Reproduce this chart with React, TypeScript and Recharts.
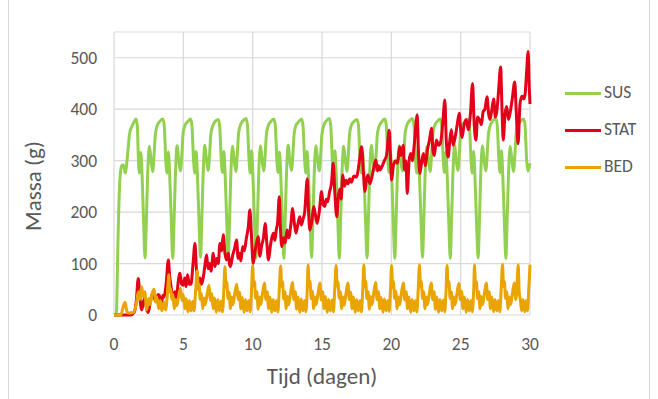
import { LineChart, Line, XAxis, YAxis, CartesianGrid } from 'recharts'

// massa in de waterkolom (zwevend), [tijd in dagen, massa in g]
const susPoints: [number, number][] = [
  [0, 0], [0.16, 0], [0.3, 160], [0.42, 262], [0.55, 290], [0.65, 292], [0.75, 283], [0.82, 276], [0.9, 290], [1.0, 318],
  [1.12, 352], [1.28, 366], [1.45, 375], [1.58, 381], [1.68, 368], [1.77, 296], [1.84, 276], [1.93, 316], [2.02, 276], [2.14, 176],
  [2.24, 111], [2.32, 170], [2.42, 268], [2.55, 328], [2.67, 301], [2.79, 279], [2.9, 316], [2.98, 350], [3.1, 367], [3.29, 376], [3.52, 381], [3.62, 369], [3.74, 298], [3.83, 276], [3.92, 317], [4.01, 277], [4.14, 176],
  [4.24, 110], [4.32, 172], [4.42, 266], [4.55, 329], [4.67, 300], [4.79, 280], [4.9, 315], [4.98, 352], [5.1, 368], [5.29, 375], [5.52, 381], [5.62, 368], [5.74, 300], [5.83, 276], [5.92, 318], [6.01, 276], [6.14, 175],
  [6.24, 112], [6.32, 171], [6.42, 267], [6.55, 330], [6.67, 302], [6.79, 281], [6.9, 314], [6.98, 351], [7.1, 366], [7.29, 376], [7.52, 380], [7.62, 368], [7.74, 299], [7.83, 277], [7.92, 318], [8.01, 277], [8.14, 174],
  [8.24, 110], [8.32, 170], [8.42, 268], [8.55, 328], [8.67, 300], [8.79, 279], [8.9, 316], [8.98, 352], [9.1, 368], [9.29, 377], [9.52, 382], [9.62, 370], [9.74, 300], [9.83, 276], [9.92, 319], [10.01, 276], [10.14, 176],
  [10.25, 111], [10.33, 172], [10.43, 269], [10.56, 329], [10.68, 301], [10.8, 280], [10.91, 315], [10.99, 351], [11.11, 367], [11.3, 376], [11.53, 381], [11.63, 369], [11.75, 299], [11.84, 277], [11.93, 317], [12.02, 277], [12.15, 175],
  [12.25, 110], [12.33, 171], [12.43, 267], [12.56, 330], [12.68, 300], [12.8, 281], [12.91, 316], [12.99, 352], [13.11, 368], [13.3, 375], [13.53, 381], [13.63, 368], [13.75, 300], [13.84, 276], [13.93, 318], [14.02, 276], [14.15, 174],
  [14.25, 112], [14.33, 170], [14.43, 268], [14.56, 329], [14.68, 302], [14.8, 280], [14.91, 315], [14.99, 350], [15.11, 367], [15.3, 377], [15.53, 382], [15.63, 369], [15.75, 298], [15.84, 277], [15.93, 319], [16.02, 277], [16.15, 176],
  [16.25, 110], [16.33, 172], [16.43, 266], [16.56, 328], [16.68, 301], [16.8, 279], [16.91, 316], [16.99, 352], [17.11, 368], [17.3, 376], [17.53, 380], [17.63, 368], [17.75, 300], [17.84, 276], [17.93, 317], [18.02, 276], [18.15, 175],
  [18.25, 111], [18.33, 171], [18.43, 268], [18.56, 330], [18.68, 300], [18.8, 281], [18.91, 314], [18.99, 351], [19.11, 366], [19.3, 375], [19.53, 381], [19.63, 370], [19.75, 299], [19.84, 277], [19.93, 318], [20.02, 277], [20.15, 174],
  [20.25, 110], [20.33, 170], [20.43, 267], [20.56, 329], [20.68, 302], [20.8, 280], [20.91, 316], [20.99, 352], [21.11, 368], [21.3, 377], [21.53, 382], [21.63, 369], [21.75, 300], [21.84, 276], [21.93, 319], [22.02, 276], [22.15, 176],
  [22.25, 112], [22.33, 172], [22.43, 269], [22.56, 328], [22.68, 301], [22.8, 279], [22.91, 315], [22.99, 350], [23.11, 367], [23.3, 376], [23.53, 381], [23.63, 368], [23.75, 298], [23.84, 277], [23.93, 317], [24.02, 277], [24.15, 175],
  [24.25, 110], [24.33, 171], [24.43, 266], [24.56, 330], [24.68, 300], [24.8, 281], [24.91, 316], [24.99, 352], [25.11, 368], [25.3, 375], [25.53, 380], [25.63, 369], [25.75, 300], [25.84, 276], [25.93, 318], [26.02, 276], [26.15, 174],
  [26.26, 111], [26.34, 170], [26.44, 268], [26.57, 329], [26.69, 302], [26.81, 280], [26.92, 314], [27.0, 351], [27.12, 367], [27.31, 377], [27.54, 382], [27.64, 368], [27.76, 299], [27.85, 277], [27.94, 319], [28.03, 277], [28.16, 176],
  [28.26, 110], [28.34, 172], [28.44, 267], [28.57, 328], [28.69, 301], [28.81, 279], [28.92, 316], [29.0, 352], [29.12, 368], [29.31, 376], [29.54, 381], [29.64, 369], [29.76, 300], [29.85, 280], [30.0, 295],
]

// massa in stationaire zone
const statPoints: [number, number][] = [
  [0, 0], [1.2, 0], [1.45, 5], [1.6, 25], [1.75, 71], [1.88, 30], [2.0, 10], [2.12, 25], [2.23, 33], [2.35, 12], [2.47, 5],
  [2.65, 30], [2.84, 45], [2.96, 28], [3.08, 30], [3.18, 40], [3.27, 38], [3.36, 22], [3.44, 25], [3.52, 38], [3.6, 35], [3.75, 58],
  [3.92, 107], [4.02, 75], [4.1, 58], [4.25, 35], [4.4, 45], [4.5, 30], [4.62, 62], [4.76, 81], [4.88, 60], [5.0, 58], [5.1, 72],
  [5.2, 55], [5.3, 78], [5.42, 60], [5.55, 60], [5.7, 100], [5.84, 139], [5.93, 95], [6.0, 78], [6.12, 55], [6.2, 72], [6.32, 60],
  [6.45, 75], [6.55, 95], [6.68, 117], [6.78, 90], [6.9, 100], [7.0, 85], [7.16, 120], [7.28, 94], [7.4, 110], [7.52, 100],
  [7.64, 139], [7.76, 125], [7.88, 156], [8.0, 120], [8.12, 107], [8.25, 120], [8.32, 100], [8.4, 94], [8.55, 115], [8.7, 130],
  [8.84, 146], [8.95, 110], [9.05, 120], [9.15, 105], [9.28, 133], [9.4, 125], [9.55, 150], [9.68, 170], [9.8, 204], [9.9, 160],
  [10.04, 100], [10.15, 120], [10.28, 140], [10.4, 152], [10.52, 114], [10.65, 135], [10.78, 150], [10.9, 178], [11.02, 140],
  [11.14, 107], [11.28, 135], [11.38, 150], [11.5, 159], [11.6, 145], [11.7, 165], [11.8, 180], [11.92, 230], [12.0, 170],
  [12.1, 133], [12.22, 150], [12.35, 140], [12.48, 165], [12.6, 150], [12.75, 175], [12.88, 207], [13.0, 180], [13.12, 159],
  [13.25, 175], [13.4, 191], [13.5, 175], [13.62, 185], [13.75, 200], [13.94, 265], [14.03, 200], [14.13, 165], [14.28, 185],
  [14.4, 211], [14.52, 195], [14.65, 178], [14.8, 200], [14.97, 240], [15.08, 215], [15.2, 211], [15.3, 225], [15.4, 220],
  [15.55, 240], [15.68, 255], [15.81, 295], [15.92, 240], [16.06, 191], [16.18, 230], [16.28, 245], [16.38, 225], [16.5, 272],
  [16.62, 250], [16.75, 262], [16.88, 255], [17.0, 265], [17.12, 258], [17.3, 270], [17.5, 268], [17.65, 290], [17.86, 327],
  [17.98, 280], [18.1, 240], [18.22, 265], [18.32, 272], [18.45, 255], [18.6, 268], [18.72, 285], [18.89, 301], [19.0, 280],
  [19.1, 290], [19.2, 282], [19.35, 290], [19.5, 300], [19.65, 310], [19.85, 359], [19.95, 300], [20.02, 262], [20.15, 290],
  [20.3, 300], [20.45, 295], [20.6, 327], [20.7, 310], [20.86, 330], [20.95, 282], [21.05, 300], [21.15, 236], [21.28, 300],
  [21.4, 314], [21.52, 300], [21.65, 330], [21.87, 389], [21.95, 320], [22.06, 275], [22.2, 300], [22.32, 314], [22.45, 290],
  [22.6, 320], [22.75, 340], [22.9, 363], [23.0, 320], [23.1, 310], [23.25, 340], [23.4, 330], [23.55, 335], [23.7, 370],
  [23.86, 418], [23.96, 340], [24.1, 307], [24.22, 340], [24.33, 360], [24.45, 330], [24.6, 345], [24.75, 370], [24.9, 392],
  [25.0, 360], [25.1, 345], [25.25, 370], [25.4, 380], [25.55, 360], [25.7, 390], [25.86, 450], [25.96, 380], [26.1, 340],
  [26.22, 385], [26.35, 380], [26.5, 370], [26.62, 395], [26.75, 400], [26.9, 424], [27.02, 390], [27.12, 380], [27.25, 400],
  [27.38, 420], [27.5, 385], [27.6, 395], [27.72, 430], [27.88, 482], [27.98, 400], [28.07, 340], [28.2, 390], [28.32, 405],
  [28.45, 380], [28.58, 395], [28.72, 420], [28.9, 453], [29.0, 400], [29.14, 333], [29.28, 410], [29.42, 425], [29.55, 420],
  [29.65, 430], [29.75, 470], [29.87, 512], [29.95, 440], [30.0, 410],
]

// massa op de bodem
const bedPoints: [number, number][] = [
  [0, 0], [0.5, 0], [0.65, 15], [0.8, 25], [0.9, 10], [1.0, 4], [1.4, 5], [1.6, 20], [1.75, 45], [1.85, 30], [2.0, 55],
  [2.1, 35], [2.22, 45], [2.35, 10], [2.5, 32], [2.6, 20], [2.75, 42], [2.9, 50], [3.0, 25], [3.1, 35], [3.22, 12], [3.35, 28],
  [3.45, 8], [3.6, 25], [3.72, 10], [3.85, 40],
  [3.95, 78], [4.02, 45], [4.08, 52], [4.17, 30], [4.25, 40], [4.35, 12], [4.43, 30], [4.53, 18], [4.65, 35], [4.8, 52], [4.9, 28], [5.0, 40], [5.1, 12], [5.2, 32], [5.33, 6], [5.43, 28], [5.55, 8], [5.67, 26], [5.77, 8], [5.88, 45],
  [6.0, 86], [6.07, 50], [6.13, 60], [6.22, 30], [6.3, 42], [6.4, 12], [6.48, 33], [6.58, 20], [6.7, 38], [6.85, 58], [6.95, 28], [7.05, 42], [7.15, 12], [7.25, 33], [7.38, 5], [7.48, 30], [7.6, 8], [7.72, 27], [7.82, 6], [7.92, 48],
  [8.0, 94], [8.07, 55], [8.13, 64], [8.22, 32], [8.3, 44], [8.4, 12], [8.48, 35], [8.58, 20], [8.7, 40], [8.85, 60], [8.95, 30], [9.05, 44], [9.15, 12], [9.25, 34], [9.38, 5], [9.48, 30], [9.6, 8], [9.72, 28], [9.82, 6], [9.92, 50],
  [10.0, 96], [10.07, 56], [10.13, 65], [10.22, 32], [10.3, 45], [10.4, 11], [10.48, 35], [10.58, 20], [10.7, 40], [10.85, 62], [10.95, 30], [11.05, 45], [11.15, 12], [11.25, 35], [11.38, 5], [11.48, 30], [11.6, 8], [11.72, 28], [11.82, 6], [11.92, 50],
  [12.02, 95], [12.09, 55], [12.15, 65], [12.24, 31], [12.32, 45], [12.42, 12], [12.5, 36], [12.6, 20], [12.72, 41], [12.87, 63], [12.97, 30], [13.07, 45], [13.17, 11], [13.27, 35], [13.4, 5], [13.5, 31], [13.62, 8], [13.74, 28], [13.84, 6], [13.94, 52],
  [14.0, 97], [14.07, 55], [14.13, 66], [14.22, 32], [14.3, 46], [14.4, 12], [14.48, 35], [14.58, 20], [14.7, 40], [14.85, 62], [14.95, 29], [15.05, 45], [15.15, 12], [15.25, 36], [15.38, 5], [15.48, 30], [15.6, 8], [15.72, 29], [15.82, 6], [15.92, 50],
  [16.02, 96], [16.09, 56], [16.15, 64], [16.24, 33], [16.32, 45], [16.42, 12], [16.5, 35], [16.6, 19], [16.72, 40], [16.87, 62], [16.97, 30], [17.07, 44], [17.17, 12], [17.27, 35], [17.4, 5], [17.5, 30], [17.62, 8], [17.74, 28], [17.84, 6], [17.94, 50],
  [18.02, 97], [18.09, 55], [18.15, 66], [18.24, 32], [18.32, 45], [18.42, 11], [18.5, 36], [18.6, 20], [18.72, 40], [18.87, 63], [18.97, 30], [19.07, 45], [19.17, 12], [19.27, 34], [19.4, 5], [19.5, 31], [19.62, 8], [19.74, 28], [19.84, 7], [19.94, 50],
  [20.02, 96], [20.09, 54], [20.15, 65], [20.24, 32], [20.32, 46], [20.42, 12], [20.5, 35], [20.6, 20], [20.72, 41], [20.87, 62], [20.97, 29], [21.07, 45], [21.17, 12], [21.27, 35], [21.4, 5], [21.5, 30], [21.62, 8], [21.74, 28], [21.84, 6], [21.94, 51],
  [22.03, 97], [22.1, 55], [22.16, 65], [22.25, 32], [22.33, 45], [22.43, 12], [22.51, 35], [22.61, 20], [22.73, 40], [22.88, 62], [22.98, 30], [23.08, 45], [23.18, 11], [23.28, 35], [23.41, 5], [23.51, 30], [23.63, 8], [23.75, 29], [23.85, 6], [23.95, 50],
  [24.02, 96], [24.09, 56], [24.15, 65], [24.24, 32], [24.32, 45], [24.42, 12], [24.5, 35], [24.6, 20], [24.72, 40], [24.87, 61], [24.97, 30], [25.07, 46], [25.17, 12], [25.27, 35], [25.4, 5], [25.5, 30], [25.62, 8], [25.74, 28], [25.84, 6], [25.94, 50],
  [26.0, 97], [26.07, 55], [26.13, 65], [26.22, 32], [26.3, 45], [26.4, 12], [26.48, 36], [26.58, 20], [26.7, 40], [26.85, 62], [26.95, 30], [27.05, 45], [27.15, 12], [27.25, 35], [27.38, 6], [27.48, 30], [27.6, 8], [27.72, 28], [27.82, 6], [27.92, 50],
  [28.02, 98], [28.09, 55], [28.15, 65], [28.24, 32], [28.32, 45], [28.42, 12], [28.5, 35], [28.6, 20], [28.72, 40], [28.87, 62], [28.97, 30], [29.07, 60], [29.15, 97], [29.22, 45], [29.3, 30], [29.4, 8], [29.5, 30], [29.62, 6], [29.72, 28], [29.82, 8], [29.92, 55], [30.0, 98],
]

const xTicks = [0, 5, 10, 15, 20, 25, 30]
const yTicks = [0, 100, 200, 300, 400, 500]

const series = [
  { name: 'SUS', color: '#92d050', points: susPoints },
  { name: 'STAT', color: '#e5001a', points: statPoints },
  { name: 'BED', color: '#e9a400', points: bedPoints },
]

const FONT = "Calibri, Carlito, Lato, sans-serif"
const TEXT = '#595959'
const GRID = '#d9d9d9'

export default function App() {
  return (
    <div style={{ position: 'absolute', left: 0, top: 0, width: 658, height: 399, background: '#fff', fontFamily: FONT }}>
      {/* kader links en rechts */}
      <div style={{ position: 'absolute', left: 8, top: -1, width: 642, height: 401, border: `1px solid ${GRID}`, boxSizing: 'border-box' }} />

      <LineChart width={658} height={399} margin={{ top: 32, right: 128, bottom: 44, left: 54 }}>
        <CartesianGrid stroke={GRID} strokeWidth={1.2} />
        <XAxis
          type="number"
          dataKey="t"
          domain={[0, 30]}
          ticks={xTicks}
          interval={0}
          axisLine={false}
          tickLine={false}
          tickSize={0}
          tickMargin={23}
          height={40}
          tick={{ fill: TEXT, fontSize: 17.5, fontFamily: FONT }}
        />
        <YAxis
          type="number"
          domain={[0, 550]}
          ticks={yTicks}
          interval={0}
          axisLine={false}
          tickLine={false}
          tickSize={0}
          tickMargin={17}
          width={60}
          tick={{ fill: TEXT, fontSize: 17.5, fontFamily: FONT }}
        />
        {series.map(s => (
          <Line
            key={s.name}
            name={s.name}
            data={s.points.map(([t, v]) => ({ t, v }))}
            dataKey="v"
            type="monotone"
            stroke={s.color}
            strokeWidth={3}
            dot={false}
            activeDot={false}
            isAnimationActive={false}
          />
        ))}
      </LineChart>

      {/* astitels */}
      <div style={{
        position: 'absolute', left: 33, top: 186, transform: 'translate(-50%, -50%) rotate(-90deg)',
        fontSize: 23, color: TEXT, whiteSpace: 'nowrap', lineHeight: 1,
      }}>
        Massa (g)
      </div>
      <div style={{
        position: 'absolute', left: 322, top: 376, transform: 'translate(-50%, -50%)',
        fontSize: 23, color: TEXT, whiteSpace: 'nowrap', lineHeight: 1,
      }}>
        Tijd (dagen)
      </div>

      {/* legenda */}
      <div style={{ position: 'absolute', left: 565, top: 74.5 }}>
        {series.map(s => (
          <div key={s.name} style={{ display: 'flex', alignItems: 'center', height: 37 }}>
            <span style={{ display: 'inline-block', width: 36, height: 3, background: s.color }} />
            <span style={{ marginLeft: 3, fontSize: 17.5, color: TEXT, lineHeight: 1 }}>{s.name}</span>
          </div>
        ))}
      </div>
    </div>
  )
}
